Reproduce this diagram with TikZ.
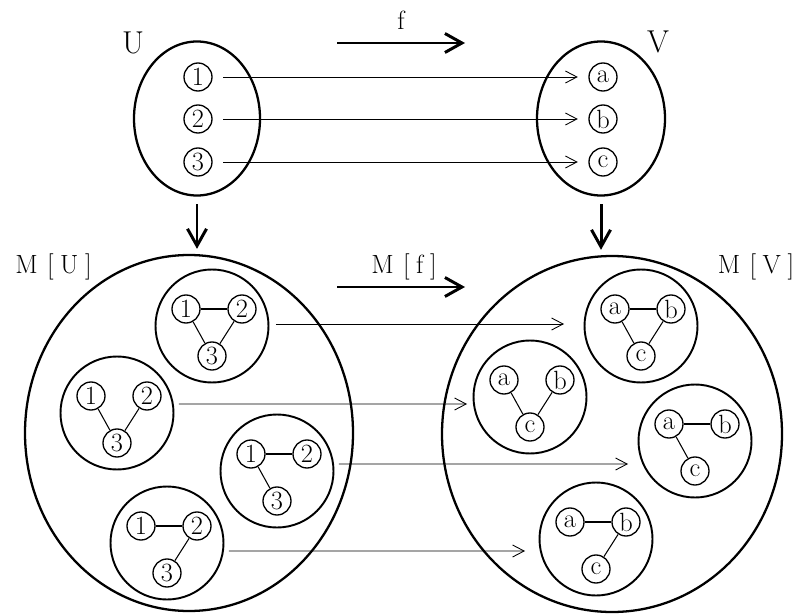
\documentclass[tikz,border=0pt]{standalone}
\usetikzlibrary{positioning,shapes.geometric,arrows.meta}

\begin{document}
\begin{tikzpicture}[>={Straight Barb[length=2.3mm,width=2.4mm]},
  every node/.style={font=\fontsize{15}{15}\selectfont},
  elem/.style={draw,circle,line width=0.75pt,inner sep=0pt,minimum size=5.6mm},
  bag/.style={draw,circle,line width=1.1pt,inner sep=0pt,minimum size=22.6mm},
  set/.style={draw,ellipse,line width=1.3pt,inner sep=0pt},
  setname/.style={font=\fontsize{18}{18}\selectfont,anchor=base},
  map/.style={->,line width=0.5pt},
  tie/.style={line width=0.6pt},
  bigarrow/.style={-{Straight Barb[length=3.4mm,width=3.8mm]},line width=1.7pt}]
  \useasboundingbox (0,0) rectangle (15.94,12.26);

  % the sets U and V with their elements
  \node[set,minimum width=2.52cm,minimum height=3.08cm] (U) at (3.94,9.89) {};
  \node[set,minimum width=2.56cm,minimum height=3.08cm] (V) at (12.02,9.89) {};
  \node[setname] (lblU) at (2.66,11.19) {U};
  \node[setname] (lblV) at (13.16,11.20) {V};
  \foreach \i/\s/\y in {1/a/10.72,2/b/9.88,3/c/9.02} {
    \node[elem] (u\i) at (3.96,\y) {\i};
    \node[elem] (v\i) at (12.06,\y) {\s};
    \draw[map,shorten <=2.1mm,shorten >=2.1mm] (u\i) -- (v\i);
  }

  % f on top
  \coordinate (f0) at (6.74,11.40);
  \coordinate (f1) at (9.30,11.40);
  \draw[bigarrow] (f0) -- (f1);
  \node[anchor=base] (lblf) at (8.02,11.66) {f};

  % M[U] and M[V]
  \node[set,minimum width=6.56cm,minimum height=7.12cm] (MU) at (3.78,3.60) {};
  \node[set,minimum width=6.80cm,minimum height=7.12cm] (MV) at (12.24,3.58) {};
  \node[anchor=base] (lblMU) at (1.07,6.80) {M\kern.35em[\kern.25em U\kern.25em]};
  \node[anchor=base] (lblMV) at (15.12,6.80) {M\kern.35em[\kern.25em V\kern.25em]};
  \draw[bigarrow,shorten <=1.5mm,shorten >=1mm] (U.south) -- (U.south |- MU.north);
  \draw[bigarrow,shorten <=1.5mm,shorten >=1mm] (V.south) -- (V.south |- MV.north);

  % M[f] in the middle
  \coordinate (mf0) at (6.74,6.52);
  \coordinate (mf1) at (9.30,6.52);
  \draw[bigarrow] (mf0) -- (mf1);
  \node[anchor=base] (lblMf) at (8.08,6.80) {M\kern.35em[\kern.25em f\kern.25em]};

  % graphs on U
  \foreach \b/\x/\y/\e in {mu1/4.24/5.74/{1/2,1/3,2/3},mu2/2.34/4.00/{1/3,2/3},
                           mu3/5.54/2.84/{1/2,1/3},mu4/3.34/1.40/{1/2,2/3}} {
    \node[bag] (\b) at (\x,\y) {};
    \node[elem] (\b-1) at ([shift={(-0.52,0.34)}]\b) {1};
    \node[elem] (\b-2) at ([shift={(0.60,0.34)}]\b) {2};
    \node[elem] (\b-3) at ([shift={(0,-0.60)}]\b) {3};
    \foreach \p/\q in \e \draw[tie] (\b-\p) -- (\b-\q);
  }

  % graphs on V
  \foreach \b/\x/\y/\e in {mv1/12.82/5.74/{1/2,1/3,2/3},mv2/10.60/4.32/{1/3,2/3},
                           mv3/13.90/3.44/{1/2,1/3},mv4/11.92/1.48/{1/2,2/3}} {
    \node[bag] (\b) at (\x,\y) {};
    \node[elem] (\b-1) at ([shift={(-0.52,0.34)}]\b) {a};
    \node[elem] (\b-2) at ([shift={(0.60,0.34)}]\b) {b};
    \node[elem] (\b-3) at ([shift={(0,-0.60)}]\b) {c};
    \foreach \p/\q in \e \draw[tie] (\b-\p) -- (\b-\q);
  }

  % M[f] acting on each graph
  \draw[map] ([shift={(0.13,0.04)}]mu1.east) -- ([shift={(-0.39,0.04)}]mv1.west);
  \draw[map] ([shift={(0.09,0.18)}]mu2.east) -- ([shift={(-0.11,-0.14)}]mv2.west);
  \draw[map] ([shift={(0.09,0.14)}]mu3.east) -- ([shift={(-0.19,-0.46)}]mv3.west);
  \draw[map] ([shift={(0.09,-0.16)}]mu4.east) -- ([shift={(-0.27,-0.24)}]mv4.west);
\end{tikzpicture}
\end{document}
